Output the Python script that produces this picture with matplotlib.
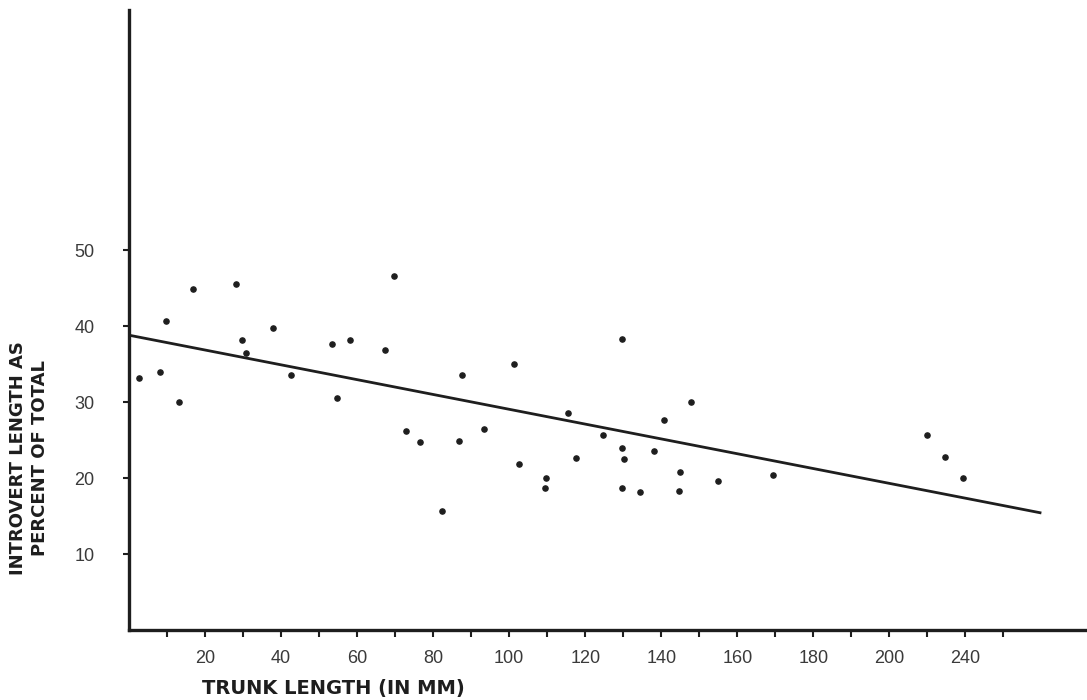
import matplotlib
matplotlib.use("Agg")
import matplotlib.pyplot as plt

# trunk length (mm) vs introvert length as percent of total
trunk_mm = [2.7, 8.2, 9.6, 13.2, 16.7, 28.2, 29.8, 30.9, 38.0, 42.6,
            53.4, 54.7, 58.0, 67.4, 69.7, 72.9, 76.6, 82.2, 86.7, 87.7,
            93.5, 101.2, 102.7, 109.5, 109.8, 115.6, 117.6, 124.6, 129.6, 129.6,
            130.1, 129.6, 134.5, 138.2, 140.8, 144.6, 145.0, 147.8, 154.9, 169.4,
            209.9, 214.6, 219.4]
introvert_pct = [33.2, 33.9, 40.7, 30.0, 44.9, 45.6, 38.2, 36.5, 39.7, 33.6,
                 37.7, 30.5, 38.2, 36.8, 46.6, 26.2, 24.8, 15.7, 24.9, 33.5,
                 26.5, 35.0, 21.8, 18.7, 20.0, 28.6, 22.7, 25.6, 38.3, 23.9,
                 22.5, 18.7, 18.1, 23.5, 27.7, 18.3, 20.8, 30.0, 19.6, 20.4,
                 25.7, 22.8, 20.0]

# fitted line as drawn
fit_x = [0, 240]
fit_y = [38.8, 15.4]

# axis ticks (the original labels the 220 position as "240")
x_tick_pos = list(range(10, 231, 10))
x_label_pos = list(range(20, 221, 20))
x_label_txt = ["20", "40", "60", "80", "100", "120", "140", "160", "180", "200", "240"]
y_tick_pos = [10, 20, 30, 40, 50]
y_label_txt = ["10", "20", "30", "40", "50"]

ink = "#1e1e1e"
num_font = ["Liberation Sans", "DejaVu Sans"]
num_color = "#3a3a3a"

fig = plt.figure(figsize=(10.87, 7.0), dpi=100)
ax = fig.add_axes([0.1187, 0.1, 0.8813, 0.8857])

ax.plot(fit_x, fit_y, color=ink, linewidth=2.0, solid_capstyle="butt")
ax.scatter(trunk_mm, introvert_pct, s=14, color=ink, zorder=3)

ax.set_xlim(0, 252)
ax.set_ylim(0, 81.6)

for side in ["top", "right"]:
    ax.spines[side].set_visible(False)
for side in ["left", "bottom"]:
    ax.spines[side].set_linewidth(2.4)
    ax.spines[side].set_color(ink)

# x: ticks every 10, labels every 20
ax.set_xticks(x_tick_pos)
ax.set_xticklabels([""] * len(x_tick_pos))
ax.tick_params(axis="x", direction="out", length=5, width=1.5, color=ink)
for pos, txt in zip(x_label_pos, x_label_txt):
    ax.text(pos, -2.6, txt, ha="center", va="top", fontsize=13,
            family=num_font, color=num_color)

ax.set_yticks(y_tick_pos)
ax.set_yticklabels(y_label_txt, fontsize=13, family=num_font, color=num_color)
ax.tick_params(axis="y", direction="out", length=4, width=1.5, color=ink, pad=21)

fig.text(0.186, 0.017, "TRUNK LENGTH (IN MM)", ha="left", va="center",
         fontsize=14, fontweight="bold", color=ink)
fig.text(0.027, 0.346, "INTROVERT LENGTH AS\nPERCENT OF TOTAL", ha="center",
         va="center", rotation=90, fontsize=13, fontweight="bold", color=ink,
         linespacing=1.3, multialignment="center")

plt.savefig("out.png", dpi=100)
